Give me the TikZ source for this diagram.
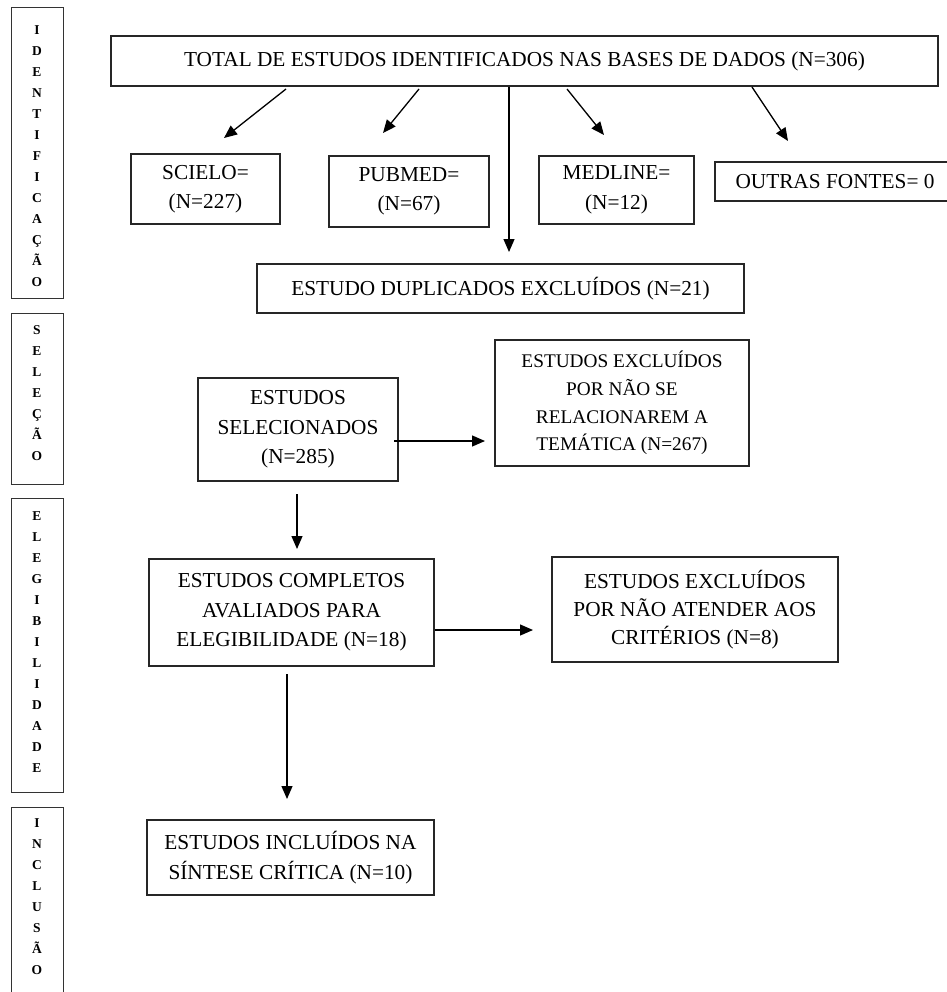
\documentclass[tikz,border=0pt]{standalone}
\usepackage{fontspec}
\setmainfont{Liberation Serif}
\usetikzlibrary{arrows.meta}
\tikzset{
  mbox/.style={draw=black!85, line width=1.2pt, align=center, inner sep=0pt,
    font=\fontsize{21.3}{29.5}\selectfont},
  sbox/.style={draw=black!80, line width=1.4pt, inner sep=0pt, minimum width=52pt, anchor=north west},
  stxt/.style={align=center, inner sep=0pt, font=\fontsize{13.5}{21}\selectfont\bfseries},
  arr/.style={line width=1.3pt, -{Triangle[length=13pt,width=11pt]}}
}
\begin{document}
\begin{tikzpicture}[x=1pt,y=-1pt]
\useasboundingbox (0,0) rectangle (946,992);
% stage boxes
\node[sbox, minimum height=291pt] (s1) at (11,7) {};
\node[sbox, minimum height=171pt] (s2) at (11,313) {};
\node[sbox, minimum height=294pt] (s3) at (11,498) {};
\node[sbox, minimum height=200pt] (s4) at (11,807) {};
\node[stxt] (t1) at (37,156) {I\\D\\E\\N\\T\\I\\F\\I\\C\\A\\Ç\\Ã\\O};
\node[stxt] (t2) at (37,393) {S\\E\\L\\E\\Ç\\Ã\\O};
\node[stxt] (t3) at (37,642) {E\\L\\E\\G\\I\\B\\I\\L\\I\\D\\A\\D\\E};
\node[stxt] (t4) at (37,897) {I\\N\\C\\L\\U\\S\\Ã\\O};
% main boxes
\node[mbox, minimum width=827pt, minimum height=50pt] (total) at (524.5,61) {TOTAL DE ESTUDOS IDENTIFICADOS NAS BASES DE DADOS (N=306)};
\node[mbox, minimum width=149pt, minimum height=70pt] (scielo) at (205.5,189) {SCIELO=\\(N=227)};
\node[mbox, minimum width=160pt, minimum height=71pt] (pubmed) at (409,191.5) {PUBMED=\\(N=67)};
\node[mbox, minimum width=155pt, minimum height=68pt] (medline) at (616.5,190) {MEDLINE=\\(N=12)};
\node[mbox, minimum width=240pt, minimum height=39pt] (outras) at (835,181.5) {OUTRAS FONTES= 0};
\node[mbox, minimum width=487pt, minimum height=49pt] (dup) at (500.5,288.5) {ESTUDO DUPLICADOS EXCLUÍDOS (N=21)};
\node[mbox, minimum width=200pt, minimum height=103pt] (sel) at (298,429.5) {ESTUDOS\\SELECIONADOS\\(N=285)};
\node[mbox, minimum width=254pt, minimum height=126pt, font=\fontsize{19.3}{27.8}\selectfont] (tem) at (622,403) {ESTUDOS EXCLUÍDOS\\POR NÃO SE\\RELACIONAREM A\\TEMÁTICA (N=267)};
\node[mbox, minimum width=285pt, minimum height=107pt] (comp) at (291.5,612.5) {ESTUDOS COMPLETOS\\AVALIADOS PARA\\ELEGIBILIDADE (N=18)};
\node[mbox, minimum width=286pt, minimum height=105pt, font=\fontsize{21.3}{27.8}\selectfont] (crit) at (695,609.5) {ESTUDOS EXCLUÍDOS\\POR NÃO ATENDER AOS\\CRITÉRIOS (N=8)};
\node[mbox, minimum width=287pt, minimum height=75pt] (incl) at (290.5,857.5) {ESTUDOS INCLUÍDOS NA\\SÍNTESE CRÍTICA (N=10)};
% connector end points
\coordinate (a1s) at (286,89);  \coordinate (a1e) at (224,138);
\coordinate (a2s) at (419,89);  \coordinate (a2e) at (383,133);
\coordinate (a3s) at (567,89);  \coordinate (a3e) at (604,135);
\coordinate (a4s) at (752,87);  \coordinate (a4e) at (788,141);
\coordinate (a5e) at (509,252);
\coordinate (a6s) at (394,441); \coordinate (a6e) at (485,441);
\coordinate (a7s) at (297,494); \coordinate (a7e) at (297,549);
\coordinate (a8e) at (533,630);
\coordinate (a9s) at (287,674); \coordinate (a9e) at (287,799);
% connectors
\draw[arr] (a1s) -- (a1e);
\draw[arr] (a2s) -- (a2e);
\draw[arr] (a3s) -- (a3e);
\draw[arr] (a4s) -- (a4e);
\draw[arr] (total.south -| a5e) -- (a5e);
\draw[arr] (a6s) -- (a6e);
\draw[arr] (a7s) -- (a7e);
\draw[arr] (comp.east |- a8e) -- (a8e);
\draw[arr] (a9s) -- (a9e);
\end{tikzpicture}
\end{document}
